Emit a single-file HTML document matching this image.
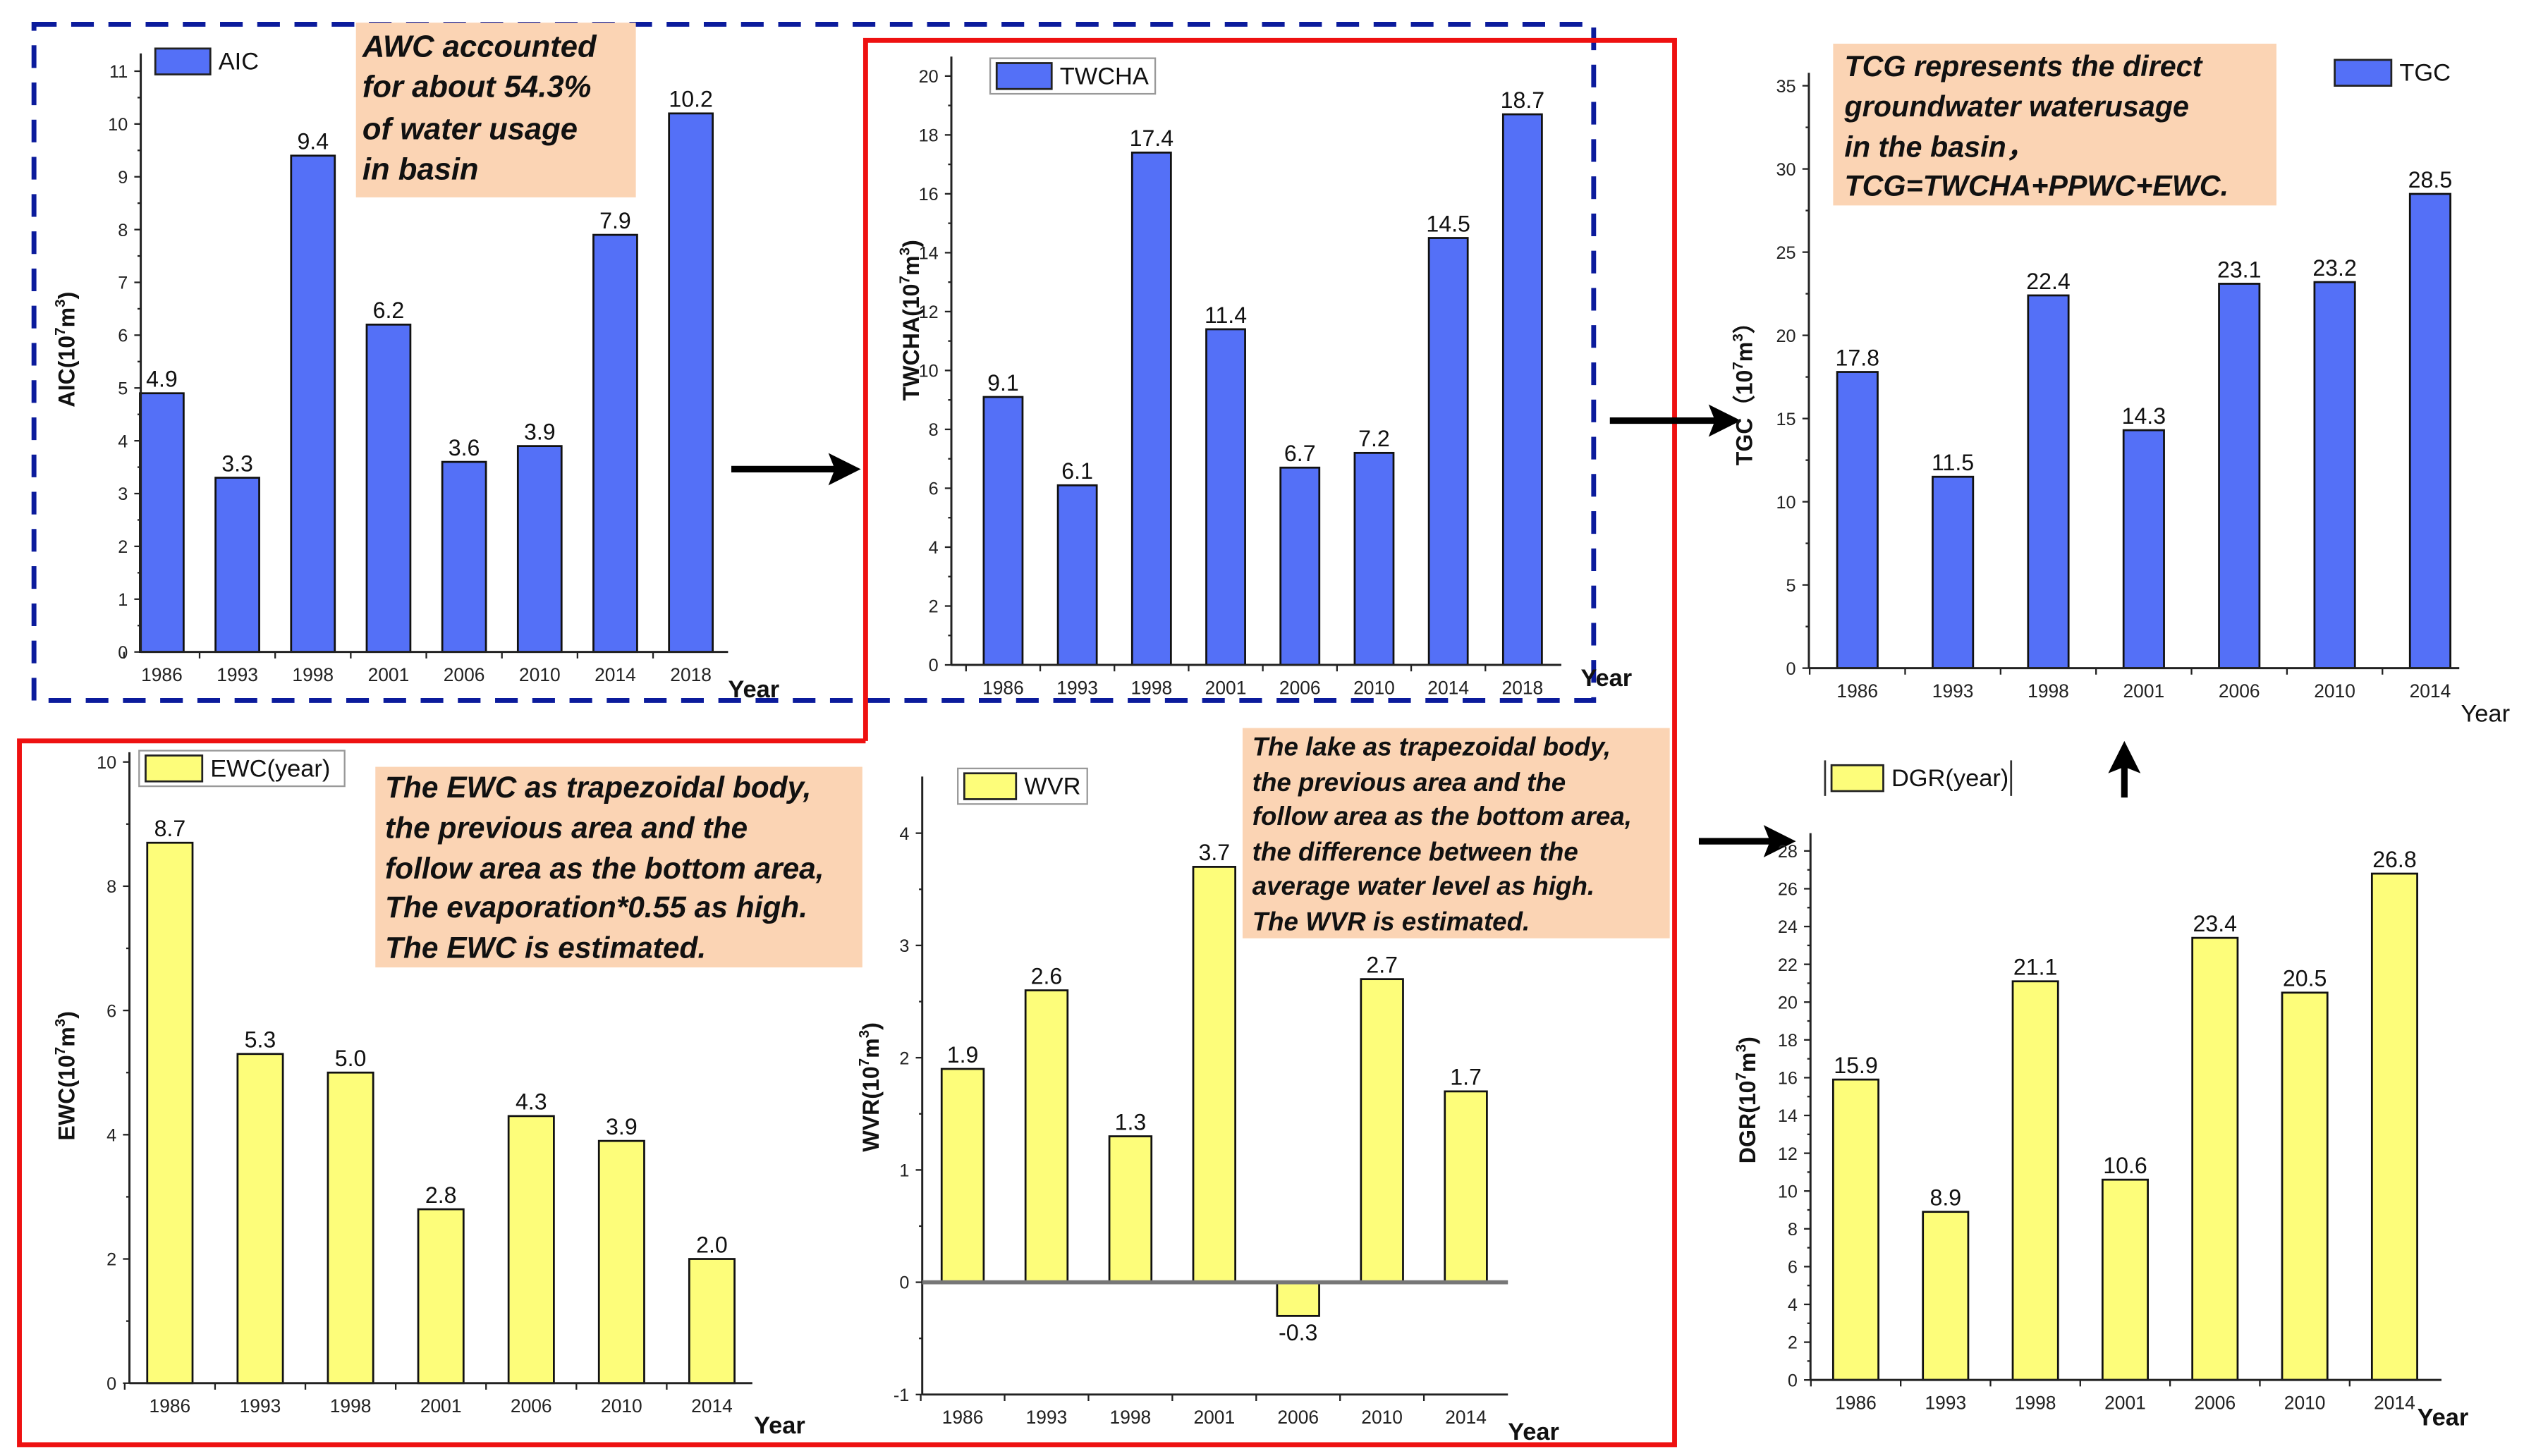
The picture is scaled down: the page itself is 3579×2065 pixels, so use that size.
<!DOCTYPE html>
<html><head><meta charset="utf-8"><style>
html,body{margin:0;padding:0;background:#fff;}
svg{display:block;font-family:"Liberation Sans",Arial,sans-serif;}
.note{font-weight:bold;font-style:italic;fill:#111;}
</style></head><body>
<svg id="fig" width="3579" height="2065" viewBox="0 0 1560 900" preserveAspectRatio="none" xmlns="http://www.w3.org/2000/svg">
<!-- frames -->
<path d="M21,15 H985 V433 H21 Z" fill="none" stroke="#0b1b9c" stroke-width="3" stroke-dasharray="14,9"/>
<path d="M535,458 V25 H1035 V893 H12 V458 H535" fill="none" stroke="#ee1111" stroke-width="3"/>
<!-- notes -->
<rect x="220" y="14" width="173" height="108" fill="#fbd4b4"/>
<text class="note" font-size="19"><tspan x="224" y="35">AWC accounted</tspan><tspan x="224" y="60">for about 54.3%</tspan><tspan x="224" y="86">of water usage</tspan><tspan x="224" y="111">in basin</tspan></text>
<rect x="1133" y="27" width="274" height="100" fill="#fbd4b4"/>
<text class="note" font-size="18"><tspan x="1140" y="47">TCG represents the direct</tspan><tspan x="1140" y="72">groundwater waterusage</tspan><tspan x="1140" y="97">in the basin，</tspan><tspan x="1140" y="121">TCG=TWCHA+PPWC+EWC.</tspan></text>
<rect x="232" y="474" width="301" height="124" fill="#fbd4b4"/>
<text class="note" font-size="18.5"><tspan x="238" y="493">The EWC as trapezoidal body,</tspan><tspan x="238" y="518">the previous area and the</tspan><tspan x="238" y="543">follow area as the bottom area,</tspan><tspan x="238" y="567">The evaporation*0.55 as high.</tspan><tspan x="238" y="592">The EWC is estimated.</tspan></text>
<rect x="768" y="450" width="264" height="130" fill="#fbd4b4"/>
<text class="note" font-size="16"><tspan x="774" y="467">The lake as trapezoidal body,</tspan><tspan x="774" y="489">the previous area and the</tspan><tspan x="774" y="510">follow area as the bottom area,</tspan><tspan x="774" y="532">the difference between the</tspan><tspan x="774" y="553">average water level as high.</tspan><tspan x="774" y="575">The WVR is estimated.</tspan></text>
<!-- arrows -->
<g><line x1="452" y1="290" x2="518" y2="290" stroke="#000" stroke-width="4"/><path d="M532,290 L512,280 L516,290 L512,300 Z" fill="#000"/></g>
<g><line x1="995" y1="260" x2="1062" y2="260" stroke="#000" stroke-width="4"/><path d="M1076,260 L1056,250 L1060,260 L1056,270 Z" fill="#000"/></g>
<g><line x1="1050" y1="520" x2="1096" y2="520" stroke="#000" stroke-width="4"/><path d="M1110,520 L1090,510 L1094,520 L1090,530 Z" fill="#000"/></g>
<g><line x1="1313" y1="493" x2="1313" y2="472" stroke="#000" stroke-width="4"/><path d="M1313,458 L1303,478 L1313,474 L1323,478 Z" fill="#000"/></g>
<g id="charts"></g>
</svg>
<script>
const years8 = ["1986","1993","1998","2001","2006","2010","2014","2018"];
const years7 = ["1986","1993","1998","2001","2006","2010","2014"];
const aicValues = [4.9,3.3,9.4,6.2,3.6,3.9,7.9,10.2];
const twchaValues = [9.1,6.1,17.4,11.4,6.7,7.2,14.5,18.7];
const tgcValues = [17.8,11.5,22.4,14.3,23.1,23.2,28.5];
const ewcValues = [8.7,5.3,5.0,2.8,4.3,3.9,2.0];
const wvrValues = [1.9,2.6,1.3,3.7,-0.3,2.7,1.7];
const dgrValues = [15.9,8.9,21.1,10.6,23.4,20.5,26.8];
const aicTicks = [0,1,2,3,4,5,6,7,8,9,10,11];
const twchaTicks = [0,2,4,6,8,10,12,14,16,18,20];
const tgcTicks = [0,5,10,15,20,25,30,35];
const ewcTicks = [0,2,4,6,8,10];
const wvrTicks = [-1,0,1,2,3,4];
const dgrTicks = [0,2,4,6,8,10,12,14,16,18,20,22,24,26,28];

const NS="http://www.w3.org/2000/svg";
const root=document.getElementById('charts');
function mk(tag,attrs,parent){const e=document.createElementNS(NS,tag);for(const k in attrs)e.setAttribute(k,attrs[k]);(parent||root).appendChild(e);return e;}

function chart(o, cats, vals, ticks){
  const g=mk('g',{});
  
  
  const y=v=>o.y0-(v-o.vmin)*(o.y0-o.yTop)/(o.vmax-o.vmin);
  const step=(o.cEnd-o.cStart)/(cats.length-1);
  const x=i=>o.cStart+i*step;
  // bars
  vals.forEach((v,i)=>{
    const yz=y(0), yv=y(v);
    const r=mk('rect',{x:x(i)-o.bw/2,y:Math.min(yz,yv),width:o.bw,height:Math.abs(yz-yv),fill:o.fill,stroke:'#111','stroke-width':1.2},g);
    
    
    const t=mk('text',{x:x(i),y:v>=0?yv-4:yv+15,'text-anchor':'middle','font-size':o.vfs||14,fill:'#111'},g);
    t.textContent=v.toFixed(1);
    
    
  });
  // axes
  const ya=mk('line',{x1:o.ax,y1:o.axTop,x2:o.ax,y2:y(o.vmin),stroke:'#222','stroke-width':1.3},g);
  
  
  const xa=mk('line',{x1:o.ax,y1:y(o.vmin),x2:o.axRight,y2:y(o.vmin),stroke:'#222','stroke-width':1.3},g);
  
  
  if(o.vmin<0){
    const zl=mk('line',{x1:o.ax,y1:y(0),x2:o.axRight,y2:y(0),stroke:'#777','stroke-width':2.5},g);
    
    
  }
  ticks.forEach((v,i)=>{
    mk('line',{x1:o.ax-4,y1:y(v),x2:o.ax,y2:y(v),stroke:'#222','stroke-width':1},g);
    if(i<ticks.length-1){const m=(v+ticks[i+1])/2;mk('line',{x1:o.ax-2,y1:y(m),x2:o.ax,y2:y(m),stroke:'#222','stroke-width':1},g);}
    const t=mk('text',{x:o.ax-8,y:y(v)+4,'text-anchor':'end','font-size':11,fill:'#222'},g);
    t.textContent=String(v);
    
    
  });
  cats.forEach((c,i)=>{
    mk('line',{x1:x(i)-step/2,y1:y(o.vmin),x2:x(i)-step/2,y2:y(o.vmin)+4,stroke:'#222','stroke-width':1},g);
    const t=mk('text',{x:x(i),y:y(o.vmin)+18,'text-anchor':'middle','font-size':11.5,fill:'#222'},g);
    t.textContent=c;
    
    
  });
  const yr=mk('text',{x:o.yearX,y:o.yearY,'font-size':15,'font-weight':o.yearBold?'bold':'normal',fill:'#111'},g);
  yr.textContent='Year';
  
  
  // y title
  const yt=mk('text',{transform:`translate(${o.titleX},${o.titleY}) rotate(-90)`,'text-anchor':'middle','font-size':14,'font-weight':'bold',fill:'#111'},g);
  
  
  yt.innerHTML=o.label+o.open+'10<tspan font-size="9" dy="-6">7</tspan><tspan dy="6">m</tspan><tspan font-size="9" dy="-6">3</tspan><tspan dy="6">'+o.close+'</tspan>';
  // legend
  const lg=mk('g',{},g);
  
  
  mk('rect',{x:o.lx,y:o.ly,width:o.lw,height:16,fill:o.fill,stroke:'#222','stroke-width':1.2},lg);
  const lt=mk('text',{x:o.lx+o.lw+5,y:o.ly+13,'font-size':15,fill:'#111'},lg);
  lt.textContent=o.legend;
  if(o.lFrame) mk('rect',{x:o.lx-4,y:o.ly-3,width:o.lFrame,height:22,fill:'none',stroke:'#999','stroke-width':1},lg);
}

chart({name:'aic',vmin:0,vmax:11,y0:403,yTop:44,ax:87,axTop:33,axRight:450,cStart:100,cEnd:427,bw:27,fill:'#5470f7',yearX:450,yearY:431,yearBold:true,titleX:46,titleY:216,label:'AIC',open:'(',close:')',lx:96,ly:30,lw:34,legend:'AIC'},years8,aicValues,aicTicks);
chart({name:'twcha',vmin:0,vmax:20,y0:411,yTop:47,ax:588,axTop:35,axRight:965,cStart:620,cEnd:941,bw:24,fill:'#5470f7',yearX:977,yearY:424,yearBold:true,titleX:568,titleY:198,label:'TWCHA',open:'(',close:')',lx:616,ly:39,lw:34,legend:'TWCHA',lFrame:102},years8,twchaValues,twchaTicks);
chart({name:'tgc',vmin:0,vmax:35,y0:413,yTop:53,ax:1118,axTop:45,axRight:1520,cStart:1148,cEnd:1502,bw:25,fill:'#5470f7',yearX:1521,yearY:446,yearBold:false,titleX:1083,titleY:240,label:'TGC',open:'（',close:'）',lx:1443,ly:37,lw:35,legend:'TGC'},years7,tgcValues,tgcTicks);
chart({name:'ewc',vmin:0,vmax:10,y0:855,yTop:471,ax:80,axTop:465,axRight:465,cStart:105,cEnd:440,bw:28,fill:'#fdfd7a',yearX:466,yearY:886,yearBold:true,titleX:46,titleY:665,label:'EWC',open:'(',close:')',lx:90,ly:467,lw:35,legend:'EWC(year)',lFrame:127},years7,ewcValues,ewcTicks);
chart({name:'wvr',vmin:-1,vmax:4,y0:862,yTop:515,ax:570,axTop:480,axRight:932,cStart:595,cEnd:906,bw:26,fill:'#fdfd7a',yearX:932,yearY:890,yearBold:true,titleX:543,titleY:672,label:'WVR',open:'(',close:')',lx:596,ly:478,lw:32,legend:'WVR',lFrame:80},years7,wvrValues,wvrTicks);
chart({name:'dgr',vmin:0,vmax:28,y0:853,yTop:526,ax:1119,axTop:515,axRight:1509,cStart:1147,cEnd:1480,bw:28,fill:'#fdfd7a',yearX:1494,yearY:881,yearBold:true,titleX:1085,titleY:680,label:'DGR',open:'(',close:')',lx:1132,ly:473,lw:32,legend:'DGR(year)'},years7,dgrValues,dgrTicks);
// DGR legend side bars
const b1=mk('line',{x1:1128,y1:470,x2:1128,y2:492,stroke:'#333','stroke-width':1.2});


const b2=mk('line',{x1:1243,y1:470,x2:1243,y2:492,stroke:'#333','stroke-width':1.2});


</script>
</body></html>
